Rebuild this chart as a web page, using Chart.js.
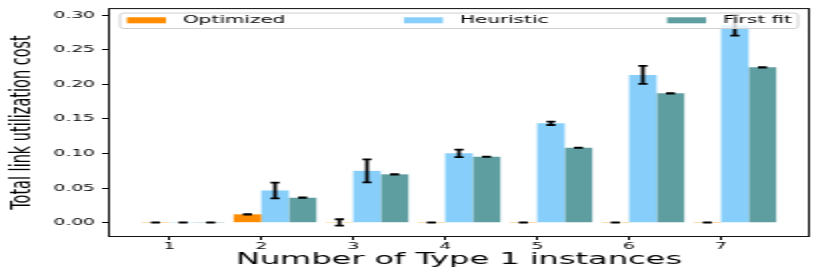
<!DOCTYPE html>
<html>
<head>
<meta charset="utf-8">
<script src="https://cdn.jsdelivr.net/npm/chart.js@4.4.1/dist/chart.umd.min.js"></script>
<style>
  html, body { margin: 0; padding: 0; background: #fff; overflow: hidden; }
  /* the original figure is stretched sideways, so draw narrow and widen it */
  #chart { transform: scaleX(2); transform-origin: 0 0; }
</style>
</head>
<body>
<canvas id="chart" width="415" height="273"></canvas>
<script>
// Number of Type 1 instances
const instances = [1, 2, 3, 4, 5, 6, 7];

// Mean cost per method, and the half length of each error bar
const optimized = [0.0003, 0.0121, 0.0004, 0.0003, 0.0003, 0.0003, 0.0003];
const optimizedErr = [0, 0.0003, 0.0046, 0, 0, 0, 0];
const heuristic = [0.0003, 0.0466, 0.0749, 0.1002, 0.1436, 0.2135, 0.2851];
const heuristicErr = [0, 0.0113, 0.0166, 0.0053, 0.0024, 0.0130, 0.0149];
const firstFit = [0.0003, 0.0361, 0.0699, 0.0953, 0.1083, 0.1869, 0.2245];
const firstFitErr = [0, 0.0003, 0.0003, 0.0003, 0.0003, 0.0003, 0.0003];

const yTicks = [0, 0.05, 0.10, 0.15, 0.20, 0.25, 0.30];
const yRange = [-0.0192, 0.3087];
const xRange = [0.355, 7.945];

// bars sit from n-0.3 to n+0.6, so the group centre is shifted
const groupShift = 0.15;

function toPoints(values) {
    return instances.map((n, i) => ({ x: n + groupShift, y: values[i] }));
}

const errorBars = {
    id: 'errorBars',
    afterDatasetsDraw(chart) {
        const ctx = chart.ctx;
        const yScale = chart.scales.y;
        ctx.save();
        ctx.strokeStyle = '#000';
        ctx.lineWidth = 1.8;
        chart.data.datasets.forEach((ds, d) => {
            const meta = chart.getDatasetMeta(d);
            meta.data.forEach((bar, i) => {
                const v = ds.data[i].y;
                const e = ds.errors[i];
                const top = yScale.getPixelForValue(v + e);
                const bottom = yScale.getPixelForValue(v - e);
                ctx.beginPath();
                ctx.moveTo(bar.x, top);
                ctx.lineTo(bar.x, bottom);
                ctx.moveTo(bar.x - 2.25, top);
                ctx.lineTo(bar.x + 2.25, top);
                ctx.moveTo(bar.x - 2.25, bottom);
                ctx.lineTo(bar.x + 2.25, bottom);
                ctx.stroke();
            });
        });
        ctx.restore();
    }
};

// axes frame plus a matplotlib style legend laid over the plot
const frameAndLegend = {
    id: 'frameAndLegend',
    afterDraw(chart) {
        const ctx = chart.ctx;
        const a = chart.chartArea;
        ctx.save();
        ctx.strokeStyle = '#111';
        ctx.lineWidth = 1;
        ctx.strokeRect(a.left - 0.5, a.top - 0.5, a.right - a.left + 1, a.bottom - a.top + 1);

        // legend box
        const bx = 60, by = 13, bw = 339, bh = 15.5;
        ctx.fillStyle = 'rgba(255,255,255,0.8)';
        ctx.strokeStyle = '#d0d0d0';
        ctx.beginPath();
        ctx.roundRect(bx, by, bw, bh, 2);
        ctx.fill();
        ctx.stroke();

        ctx.font = '10px "DejaVu Sans"';
        ctx.textBaseline = 'middle';
        const ds = chart.data.datasets;
        const patchW = 19.5, textGap = 8.5;
        const widths = ds.map(d => patchW + textGap + ctx.measureText(d.label).width);
        const startX = 63.5, endX = 396;
        const gap = (endX - startX - widths.reduce((s, w) => s + w, 0)) / (ds.length - 1);
        let x = startX;
        ds.forEach((d, i) => {
            ctx.fillStyle = d.backgroundColor;
            ctx.fillRect(x, 17.3, patchW, 6);
            ctx.fillStyle = '#000';
            ctx.fillText(d.label, x + patchW + textGap, 20.8);
            x += widths[i] + gap;
        });
        ctx.restore();
    }
};

const ctx = document.getElementById('chart').getContext('2d');
const chart = new Chart(ctx, {
    type: 'bar',
    data: {
        datasets: [
            { label: 'Optimized', data: toPoints(optimized), errors: optimizedErr, backgroundColor: '#FF8C00' },
            { label: 'Heuristic', data: toPoints(heuristic), errors: heuristicErr, backgroundColor: '#87CEFA' },
            { label: 'First fit', data: toPoints(firstFit), errors: firstFitErr, backgroundColor: '#5F9EA0' }
        ]
    },
    options: {
        responsive: false,
        animation: false,
        devicePixelRatio: 1,
        categoryPercentage: 0.9,
        barPercentage: 1,
        layout: { padding: { top: 9, right: 11, left: 0, bottom: 0 } },
        plugins: { legend: { display: false }, tooltip: { enabled: false } },
        scales: {
            x: {
                type: 'linear',
                min: xRange[0],
                max: xRange[1],
                offset: false,
                afterBuildTicks: s => { s.ticks = instances.map(v => ({ value: v })); },
                afterFit: s => { s.height = 37; },
                grid: { offset: false, drawOnChartArea: false, drawTicks: true, tickLength: 4, color: '#000' },
                border: { display: false },
                ticks: { color: '#000', padding: 1.5, font: { family: 'DejaVu Sans', size: 9.3 }, callback: v => String(v) },
                title: {
                    display: true,
                    text: 'Number of Type 1 instances',
                    color: '#000',
                    font: { family: 'DejaVu Sans', size: 16 },
                    padding: { top: 0, bottom: 4 }
                }
            },
            y: {
                min: yRange[0],
                max: yRange[1],
                afterBuildTicks: s => { s.ticks = yTicks.map(v => ({ value: v })); },
                afterFit: s => { s.width = 55; },
                grid: { drawOnChartArea: false, drawTicks: true, tickLength: 4, color: '#000' },
                border: { display: false },
                ticks: { color: '#000', padding: 3.5, font: { family: 'DejaVu Sans', size: 9.3 }, callback: v => v.toFixed(2) },
                title: {
                    display: true,
                    text: 'Total link utilization cost',
                    color: '#000',
                    font: { family: 'DejaVu Sans', size: 14.5 },
                    padding: { top: 3, bottom: 0 }
                }
            }
        }
    },
    plugins: [errorBars, frameAndLegend]
});
</script>
</body>
</html>
